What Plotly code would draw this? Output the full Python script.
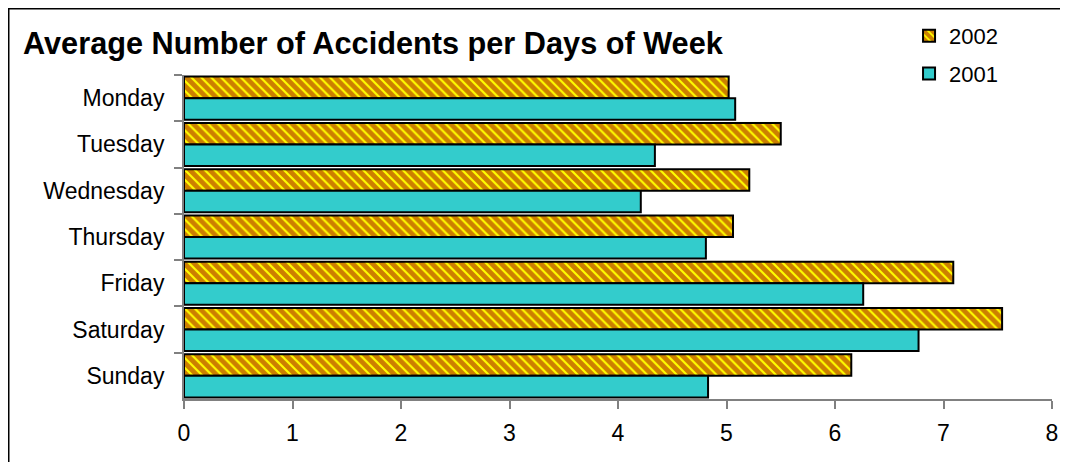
import plotly.graph_objects as go

# --- Data ---
days = ["Monday", "Tuesday", "Wednesday", "Thursday", "Friday", "Saturday", "Sunday"]
acc_2002 = [5.02, 5.50, 5.21, 5.06, 7.09, 7.54, 6.15]
acc_2001 = [5.08, 4.34, 4.21, 4.81, 6.26, 6.77, 4.83]
x_ticks = [0, 1, 2, 3, 4, 5, 6, 7, 8]

FONT = "Liberation Sans, Arial, sans-serif"

fig = go.Figure()

# 2002 first so it sits on top inside each group (y axis is reversed)
fig.add_trace(go.Bar(
    y=days, x=acc_2002, name="2002", orientation="h", legendgroup="a",
    marker=dict(
        color="#FFFF00",
        line=dict(color="black", width=2),
        pattern=dict(shape="\\", size=7, solidity=0.7,
                     fgcolor="#990000", bgcolor="#FFFF00", fillmode="overlay"),
    ),
))
fig.add_trace(go.Bar(
    y=days, x=acc_2001, name="2001", orientation="h", legendgroup="b",
    marker=dict(color="#33CCCC", line=dict(color="black", width=2)),
))

# outer frame, cut off at right and bottom like the original
fig.add_shape(type="rect", xref="paper", yref="paper",
              x0=-0.2019, x1=1.05, y0=-0.4, y1=1.2045,
              line=dict(color="black", width=1.5), fillcolor="rgba(0,0,0,0)")

# the page body adds an 8px margin, so keep the figure inside the window
fig.update_layout(
    width=1052, height=454,
    margin=dict(l=176, r=8, t=67, b=63, autoexpand=False),
    paper_bgcolor="white", plot_bgcolor="white",
    font=dict(family=FONT, size=23, color="black"),
    barmode="group", bargap=0.07, bargroupgap=0,
    title=dict(text="<b>Average Number of Accidents per Days of Week</b>",
               font=dict(family=FONT, size=30.7, color="black"),
               xref="container", x=0.0143, xanchor="left",
               yref="container", y=1 - 35 / 454, yanchor="middle"),
    legend=dict(x=0.8353, y=1.185, xanchor="left", yanchor="top",
                font=dict(family=FONT, size=22), bgcolor="rgba(0,0,0,0)",
                traceorder="grouped", tracegroupgap=6),
    showlegend=True,
)

fig.update_xaxes(
    range=[0, 8], tickvals=x_ticks, showgrid=False, zeroline=False,
    showline=True, linecolor="#808080", linewidth=2,
    ticks="outside", ticklen=8, tickwidth=1.5, tickcolor="#808080",
    ticklabelstandoff=4, automargin=False,
)
fig.update_yaxes(
    autorange="reversed", showgrid=False, zeroline=False,
    showline=True, linecolor="#808080", linewidth=2,
    ticks="outside", ticklen=8, tickwidth=1.5, tickcolor="#808080",
    tickson="boundaries", ticklabelstandoff=13, automargin=False,
)

fig.write_html("out.html")
